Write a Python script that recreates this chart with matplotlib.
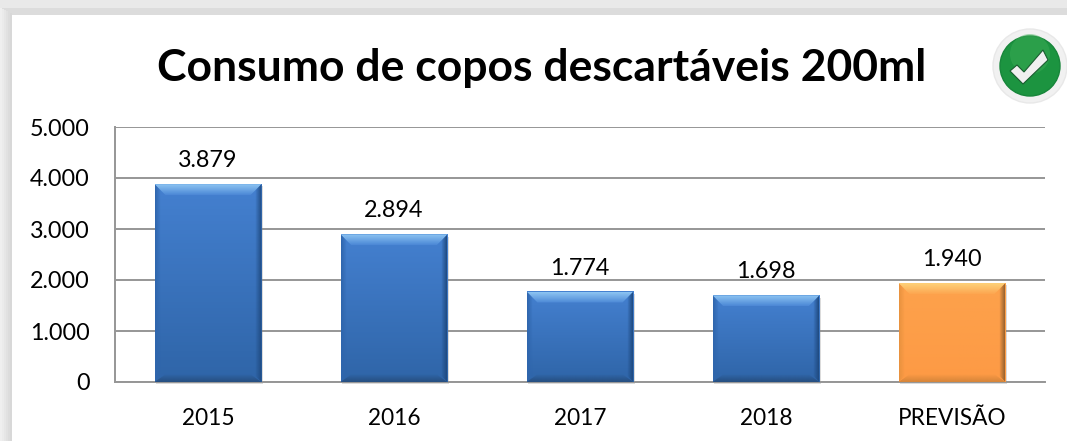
"""
Consumo de copos descartaveis - bar chart with bevelled bars
"""
import matplotlib
matplotlib.use("Agg")
import matplotlib.pyplot as plt
from matplotlib.colors import LinearSegmentedColormap, to_rgba
from matplotlib.patches import Circle, Polygon, Rectangle
import numpy as np

plt.rcParams['font.family'] = ['Lato', 'DejaVu Sans']

categories = ['2015', '2016', '2017', '2018', 'PREVISÃO']
values = [3879, 2894, 1774, 1698, 1940]
value_labels = ['3.879', '2.894', '1.774', '1.698', '1.940']
y_ticks = [0, 1000, 2000, 3000, 4000, 5000]
y_tick_labels = ['0', '1.000', '2.000', '3.000', '4.000', '5.000']
title = 'Consumo de copos descartáveis 200ml'

W, H = 1067, 441
BLUE = dict(face=['#4480d0', '#2f65a8'], top=['#8cc4f2', '#4c88d6'], left='#2f66ad',
            right='#1f4a80', bottom='#274f80')
ORANGE = dict(face=['#fda24c', '#fd9a45'], top=['#fdd27a', '#fda650'], left='#e8923f',
              right='#96622f', bottom='#d5853a')


def fade(edge):
    """Colours running from see-through to the edge colour."""
    return [to_rgba(edge, 0.0), to_rgba(edge, 1.0)]


def clipped_gradient(ax, corners, extent, colors, horizontal=False):
    """Fill a polygon with a linear gradient between two colours."""
    cmap = LinearSegmentedColormap.from_list('g', colors)
    ramp = np.linspace(0, 1, 32)
    ramp = ramp.reshape(1, -1) if horizontal else ramp.reshape(-1, 1)
    im = ax.imshow(ramp, cmap=cmap, origin='lower', extent=extent, aspect='auto', zorder=4)
    clip = Polygon(corners, transform=ax.transData, fc='none', ec='none')
    ax.add_patch(clip)
    im.set_clip_path(clip)


def bevel_bar(ax, x, value, width, style, bevel_px=11, side_px=6):
    """Draw one bar with a vertical gradient and four bevel edges."""
    # bevel size in data units, from the axes scale
    p0 = ax.transData.transform((0, 0))
    p1 = ax.transData.transform((1, 1000))
    dx = bevel_px / (p1[0] - p0[0])
    dy = bevel_px / (p1[1] - p0[1]) * 1000
    sx = side_px / (p1[0] - p0[0])
    sy = side_px / (p1[1] - p0[1]) * 1000
    x0, x1 = x - width / 2, x + width / 2
    top_in, low_in = value - dy, dy * 0.7
    left_in, right_in = x0 + dx, x1 - dx
    face_hi, face_lo = style['face']

    # soft shadow under the bar
    ax.add_patch(Rectangle((x0 + dx * 0.1, -dy * 0.2), width, value,
                           fc='#888888', alpha=0.3, ec='none', zorder=2.5, clip_on=False))

    cmap = LinearSegmentedColormap.from_list('f', [face_lo, face_hi])
    ax.imshow(np.linspace(0, 1, 64).reshape(-1, 1), cmap=cmap, origin='lower',
              extent=(x0, x1, 0, value), aspect='auto', zorder=3)

    clipped_gradient(ax, [(x0, 0), (x1, 0), (right_in, low_in), (left_in, low_in)],
                     (x0, x1, 0, low_in), fade(style['bottom'])[::-1])
    clipped_gradient(ax, [(x0, value), (x1, value), (right_in, top_in), (left_in, top_in)],
                     (x0, x1, top_in, value), style['top'][::-1])
    clipped_gradient(ax, [(x0, 0), (x0, value), (x0 + sx, value - sy), (x0 + sx, sy)],
                     (x0, x0 + sx, 0, value), fade(style['left'])[::-1], horizontal=True)
    clipped_gradient(ax, [(x1, 0), (x1, value), (x1 - sx, value - sy), (x1 - sx, sy)],
                     (x1 - sx, x1, 0, value), fade(style['right']), horizontal=True)


fig = plt.figure(figsize=(W / 100, H / 100), dpi=100, facecolor='white')

# page frame and check icon, in pixel coordinates
bg = fig.add_axes([0, 0, 1, 1], zorder=0)
bg.set_xlim(0, W)
bg.set_ylim(H, 0)
bg.axis('off')
bg.add_patch(Rectangle((0, 0), W, 8, fc='#e9e9e9', ec='none'))
bg.add_patch(Rectangle((0, 8), W, 7, fc='#dcdcdc', ec='none'))
for i, col in enumerate(['#efefef', '#ebebeb', '#e6e6e6', '#e1e1e1', '#dcdcdc', '#d8d8d8']):
    bg.add_patch(Rectangle((i * 2, 8 + i), 2, H, fc=col, ec='none'))

bg.add_patch(Circle((1030, 66), 37, fc='#f1f1f1', ec='#e8e8e8', lw=1))
bg.add_patch(Circle((1030, 66), 30, fc='#1c9440', ec='#17863a', lw=1))
bg.add_patch(Circle((1030, 54), 20, fc='#3fae58', ec='none', alpha=0.45))
bg.add_patch(Polygon([(1010, 71), (1017, 65), (1024, 72), (1043, 50), (1048, 60), (1023, 84)],
                     fc='#f0f0f0', ec='#1a5c30', lw=0.8, zorder=5))

bg.text(542, 68, title, ha='center', va='center', fontsize=32,
        fontweight='bold', color='black')

# chart area
ax = fig.add_axes([115 / W, 1 - 382 / H, 930 / W, 255 / H], zorder=1)
ax.patch.set_alpha(0)
positions = np.arange(len(categories))
ax.set_xlim(-0.5, len(categories) - 0.5)
ax.set_ylim(0, 5000)

ax.grid(True, axis='y', color='#969696', lw=1.4, zorder=1)
ax.set_axisbelow(True)
for name in ['top', 'right']:
    ax.spines[name].set_visible(False)
for name in ['left', 'bottom']:
    ax.spines[name].set_color('#969696')
    ax.spines[name].set_linewidth(1.4)

styles = [BLUE, BLUE, BLUE, BLUE, ORANGE]
for x, v, style in zip(positions, values, styles):
    bevel_bar(ax, x, v, 0.575, style)
ax.set_xlim(-0.5, len(categories) - 0.5)
ax.set_ylim(0, 5000)

for x, v, label in zip(positions, values, value_labels):
    ax.annotate(label, (x, v), xytext=(0, 13), textcoords='offset pixels',
                ha='center', va='bottom', fontsize=16.8, color='black')

ax.set_xticks(positions)
ax.set_xticklabels(categories, fontsize=16.3)
ax.set_yticks(y_ticks)
ax.set_yticklabels(y_tick_labels, fontsize=16.8)
ax.tick_params(axis='x', length=0, pad=19)
ax.tick_params(axis='y', length=0, pad=18)

fig.savefig('out.png', dpi=100)
plt.close(fig)
